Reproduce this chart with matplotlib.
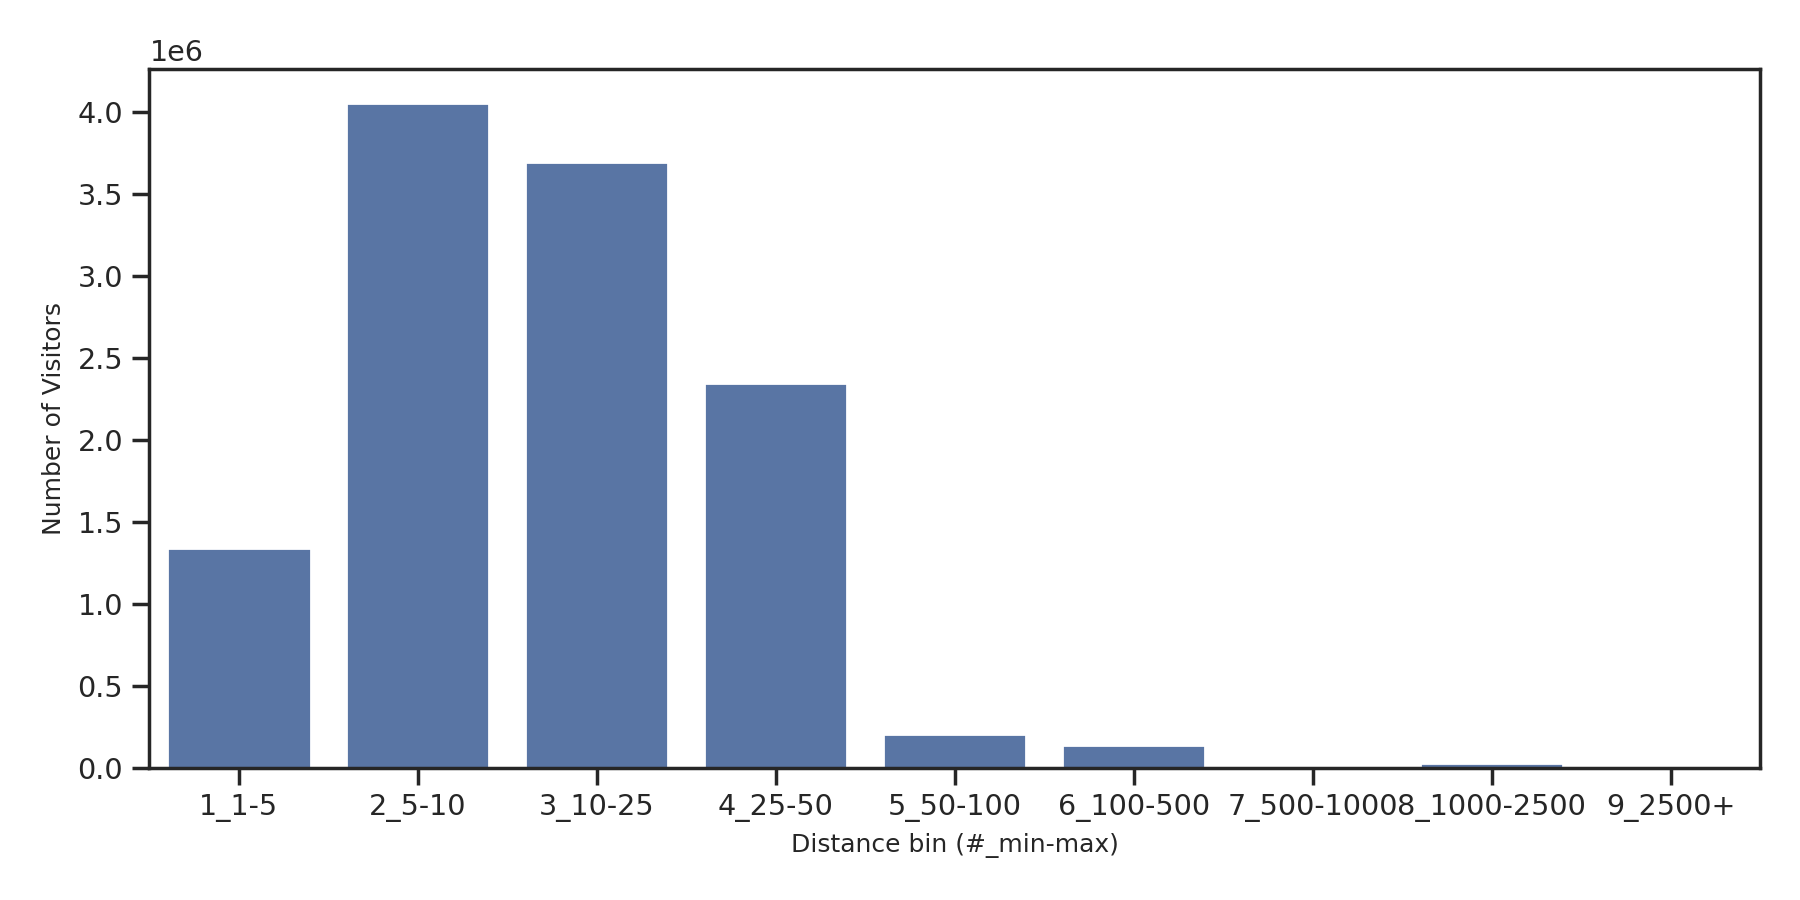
import numpy as np
import pandas as pd
import seaborn as sns
import matplotlib
matplotlib.use("Agg")
import matplotlib.pyplot as plt

sns.set_theme(style="ticks", context="notebook")
plt.rcParams['font.family'] = ['DejaVu Sans']

bins = ["1_1-5", "2_5-10", "3_10-25", "4_25-50", "5_50-100",
        "6_100-500", "7_500-1000", "8_1000-2500", "9_2500+"]
visitors = [1340000, 4055000, 3695000, 2345000, 205000,
            140000, 3000, 28000, 1000]

df = pd.DataFrame({"bin": bins, "visitors": visitors})

fig, ax = plt.subplots(figsize=(9, 4.5), dpi=200)
sns.barplot(data=df, x="bin", y="visitors", color="#4c72b0", ax=ax)

ax.tick_params(labelsize=10.3)
ax.yaxis.get_offset_text().set_fontsize(10.3)
ax.set_xlabel("Distance bin (#_min-max)", fontsize=9)
ax.set_ylabel("Number of Visitors", fontsize=9)

fig.subplots_adjust(left=0.083, right=0.978, top=0.923, bottom=0.147)
fig.savefig("out.png")
